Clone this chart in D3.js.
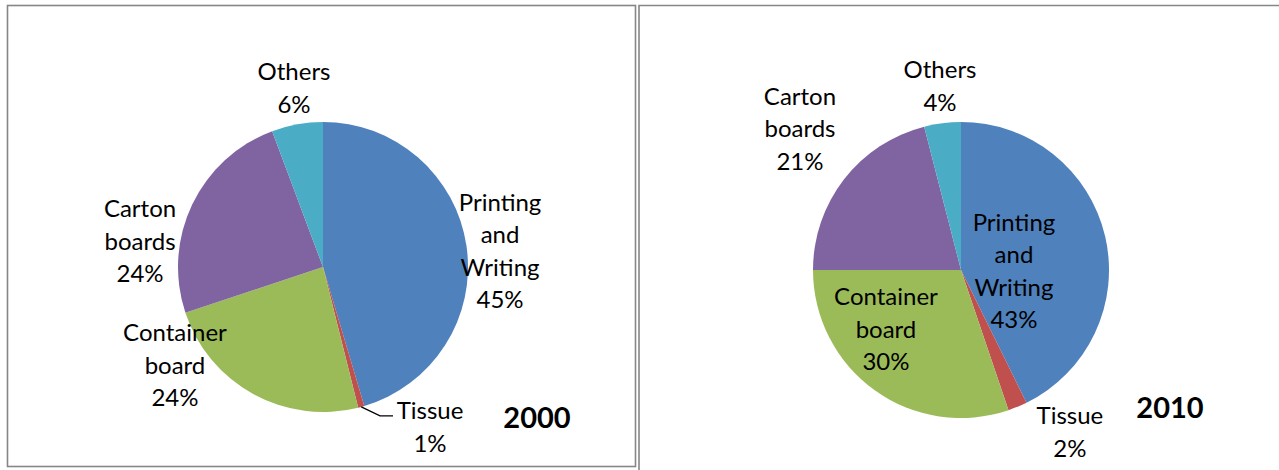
<!DOCTYPE html>
<html>
<head>
<meta charset="utf-8">
<script src="https://cdn.jsdelivr.net/npm/d3@7"></script>
<style>
html,body{margin:0;padding:0;background:#fff;}
svg{display:block;}
text{font-family:"Lato","Open Sans",sans-serif;fill:#000;}
</style>
</head>
<body>
<svg id="chart" width="1279" height="470"></svg>
<script>
// ---- data ----
const categories = ["Printing and Writing", "Tissue", "Container board", "Carton boards", "Others"];
const labelLines = [["Printing", "and", "Writing"], ["Tissue"], ["Container", "board"], ["Carton", "boards"], ["Others"]];
const values2000 = [45.4, 0.7, 23.8, 24.4, 5.7];
const values2010 = [42.7, 2.1, 30.2, 21.0, 4.0];
const years = ["2000", "2010"];
const colors = ["#4F81BD", "#C0504D", "#9BBB59", "#8064A2", "#4BACC6"];

// ---- layout (label offsets in units of radius) ----
const panels = [
  {values: values2000, year: years[0], cx: 323, cy: 267, r: 145, title: [537, 418],
   labelPos: [[1.221, -0.11], [0.738, 1.103], [-1.021, 0.676], [-1.262, -0.179], [-0.2, -1.234]],
   leader: [false, true, false, false, false]},
  {values: values2010, year: years[1], cx: 961, cy: 270, r: 148, title: [1170, 408],
   labelPos: [[0.358, 0.007], [0.736, 1.095], [-0.507, 0.399], [-1.088, -0.953], [-0.142, -1.243]],
   leader: [false, false, false, false, false]}
];

const svg = d3.select("#chart");
const fontSize = 24, lineH = 32.5;

// panel borders
svg.append("rect").attr("x", 7.5).attr("y", 5.5).attr("width", 628).attr("height", 461)
  .attr("fill", "none").attr("stroke", "#868686").attr("stroke-width", 1.6);
svg.append("path").attr("d", "M639,1300 V5.5 H1300")
  .attr("fill", "none").attr("stroke", "#868686").attr("stroke-width", 1.6);

const pie = d3.pie().sort(null).value(d => d);

panels.forEach(p => {
  const g = svg.append("g").attr("transform", `translate(${p.cx},${p.cy})`);
  const arcs = pie(p.values);
  const arc = d3.arc().innerRadius(0).outerRadius(p.r);
  g.selectAll("path.slice").data(arcs).join("path")
    .attr("class", "slice")
    .attr("d", arc)
    .attr("fill", (d, i) => colors[i]);

  const total = d3.sum(p.values);
  arcs.forEach((d, i) => {
    const lines = labelLines[i].concat([Math.round(d.value / total * 100) + "%"]);
    const lx = p.labelPos[i][0] * p.r, ly = p.labelPos[i][1] * p.r;
    const t = g.append("text").attr("text-anchor", "middle").attr("font-size", fontSize);
    const y0 = ly - (lines.length - 1) * lineH / 2;
    lines.forEach((s, k) => {
      t.append("tspan").attr("x", lx).attr("y", y0 + k * lineH + 8.5).text(s);
    });
    if (p.leader[i]) {
      const mid = (d.startAngle + d.endAngle) / 2;
      const sx = Math.sin(mid) * p.r, sy = -Math.cos(mid) * p.r;
      const ex = lx - 37, ey = ly - 11;
      g.append("path")
        .attr("d", `M${sx},${sy} L${ex - 13},${ey} L${ex},${ey}`)
        .attr("fill", "none").attr("stroke", "#000").attr("stroke-width", 1.3);
    }
  });

  svg.append("text").attr("x", p.title[0]).attr("y", p.title[1] + 10)
    .attr("text-anchor", "middle").attr("font-size", 29).attr("font-weight", "bold")
    .text(p.year);
});
</script>
</body>
</html>
